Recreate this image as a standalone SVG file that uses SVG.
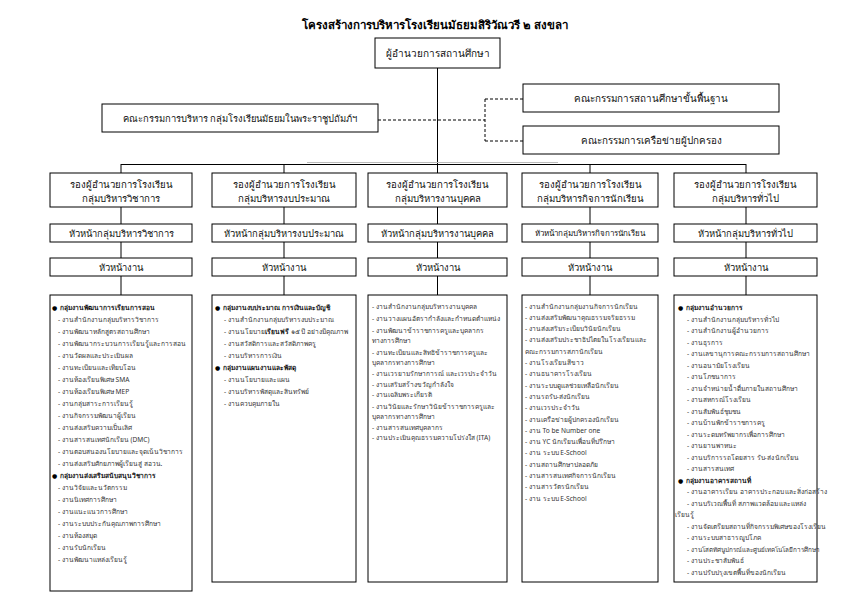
<svg xmlns="http://www.w3.org/2000/svg" width="842" height="596" viewBox="0 0 842 596">
<style>
.bg{fill:#fff}
.box{fill:#fff;stroke:#000;stroke-width:1}
.ln{stroke:#000;stroke-width:1;fill:none}
.dash{stroke:#000;stroke-width:1;fill:none;stroke-dasharray:3 2}
text{font-family:"Noto Sans","DejaVu Sans",sans-serif;fill:#000}
.title{font-size:11.5px;font-weight:bold;text-anchor:middle}
.m{font-size:9.6px;text-anchor:middle;fill:#111}
.s{font-size:9.4px;text-anchor:middle;fill:#111}
.c{font-size:9.8px;text-anchor:middle;fill:#111}
.l{font-size:6.6px;fill:#333}
.b{font-size:6.6px;font-weight:bold;fill:#111}
.dot{font-size:6px;fill:#000}
</style>
<rect class="bg" x="0" y="0" width="842" height="596"/>
<text class="title" x="435" y="29">โครงสร้างการบริหารโรงเรียนมัธยมสิริวัณวรี ๒ สงขลา</text>

<g id="connectors">
<path class="ln" d="M437.5,68 V164"/>
<path class="ln" d="M121,164.5 H746"/>
<path d="M307,162.5 H558" stroke="#bbb" stroke-width="1" fill="none"/>
<path class="ln" d="M121,164 V173 M284,164 V173 M437.5,164 V173 M590,164 V173 M746,164 V173"/>
<path class="ln" d="M121,207 V224 M284,207 V224 M437.5,207 V224 M590,207 V224 M746,207 V224"/>
<path class="ln" d="M121,242 V258 M284,242 V258 M437.5,242 V258 M590,242 V258 M746,242 V258"/>
<path class="ln" d="M121,276 V295 M284,276 V295 M437.5,276 V295 M590,276 V295 M746,276 V295"/>
<path class="dash" d="M378,120 H485 M485,99 V141 M485,99 H523 M485,141 H523"/>
</g>

<g id="director">
<rect class="box" x="375" y="38" width="125" height="30"/>
<text class="m" x="437.5" y="57" style="font-size:10px">ผู้อำนวยการสถานศึกษา</text>
</g>

<g id="committee-group">
<rect class="box" x="102" y="104" width="276" height="28"/>
<text class="s" x="240" y="122">คณะกรรมการบริหาร กลุ่มโรงเรียนมัธยมในพระราชูปถัมภ์ฯ</text>
</g>
<g id="committee-basic">
<rect class="box" x="523" y="84" width="256" height="28"/>
<text class="c" x="651" y="102">คณะกรรมการสถานศึกษาขั้นพื้นฐาน</text>
</g>
<g id="committee-parents">
<rect class="box" x="523" y="126" width="256" height="28"/>
<text class="c" x="651" y="144">คณะกรรมการเครือข่ายผู้ปกครอง</text>
</g>

<!-- Column 1 -->
<g id="deputy-academic">
<rect class="box" x="50" y="173" width="142" height="34"/>
<text class="m" x="121" y="188">รองผู้อำนวยการโรงเรียน</text>
<text class="m" x="121" y="202">กลุ่มบริหารวิชาการ</text>
</g>
<g id="head-academic">
<rect class="box" x="50" y="224" width="142" height="18"/>
<text class="s" x="121" y="236.5">หัวหน้ากลุ่มบริหารวิชาการ</text>
</g>
<g id="work-academic">
<rect class="box" x="50" y="258" width="142" height="18"/>
<text class="s" x="121" y="270.5">หัวหน้างาน</text>
</g>
<g id="list-academic">
<rect class="box" x="50" y="295" width="142" height="296"/>
<text class="dot" x="52" y="310">●</text><text class="b" x="60" y="310">กลุ่มงานพัฒนาการเรียนการสอน</text>
<text class="l" x="58" y="322">- งานสำนักงานกลุ่มบริหารวิชาการ</text>
<text class="l" x="58" y="334">- งานพัฒนาหลักสูตรสถานศึกษา</text>
<text class="l" x="58" y="346">- งานพัฒนากระบวนการเรียนรู้และการสอน</text>
<text class="l" x="58" y="358">- งานวัดผลและประเมินผล</text>
<text class="l" x="58" y="370">- งานทะเบียนและเทียบโอน</text>
<text class="l" x="58" y="382">- งานห้องเรียนพิเศษ SMA</text>
<text class="l" x="58" y="394">- งานห้องเรียนพิเศษ MEP</text>
<text class="l" x="58" y="406">- งานกลุ่มสาระการเรียนรู้</text>
<text class="l" x="58" y="418">- งานกิจกรรมพัฒนาผู้เรียน</text>
<text class="l" x="58" y="430">- งานส่งเสริมความเป็นเลิศ</text>
<text class="l" x="58" y="442">- งานสารสนเทศนักเรียน (DMC)</text>
<text class="l" x="58" y="454">- งานตอบสนองนโยบายและจุดเน้นวิชาการ</text>
<text class="l" x="58" y="466">- งานส่งเสริมศักยภาพผู้เรียนสู่ สอวน.</text>
<text class="dot" x="52" y="478">●</text><text class="b" x="60" y="478">กลุ่มงานส่งเสริมสนับสนุนวิชาการ</text>
<text class="l" x="58" y="490">- งานวิจัยและนวัตกรรม</text>
<text class="l" x="58" y="502">- งานนิเทศการศึกษา</text>
<text class="l" x="58" y="514">- งานแนะแนวการศึกษา</text>
<text class="l" x="58" y="526">- งานระบบประกันคุณภาพการศึกษา</text>
<text class="l" x="58" y="538">- งานห้องสมุด</text>
<text class="l" x="58" y="550">- งานรับนักเรียน</text>
<text class="l" x="58" y="562">- งานพัฒนาแหล่งเรียนรู้</text>
</g>

<!-- Column 2 -->
<g id="deputy-budget">
<rect class="box" x="212" y="173" width="144" height="34"/>
<text class="m" x="284" y="188">รองผู้อำนวยการโรงเรียน</text>
<text class="m" x="284" y="202">กลุ่มบริหารงบประมาณ</text>
</g>
<g id="head-budget">
<rect class="box" x="212" y="224" width="144" height="18"/>
<text class="s" x="284" y="236.5">หัวหน้ากลุ่มบริหารงบประมาณ</text>
</g>
<g id="work-budget">
<rect class="box" x="212" y="258" width="144" height="18"/>
<text class="s" x="284" y="270.5">หัวหน้างาน</text>
</g>
<g id="list-budget">
<rect class="box" x="212" y="295" width="144" height="287"/>
<text class="dot" x="215" y="310">●</text><text class="b" x="223" y="310">กลุ่มงานงบประมาณ การเงินและบัญชี</text>
<text class="l" x="224" y="322">- งานสำนักงานกลุ่มบริหารงบประมาณ</text>
<text class="l" x="224" y="334">- งานนโยบาย<tspan font-weight="bold" fill="#111">เรียนฟรี</tspan> ๑๕ ปี อย่างมีคุณภาพ</text>
<text class="l" x="224" y="346">- งานสวัสดิการและสวัสดิภาพครู</text>
<text class="l" x="224" y="358">- งานบริหารการเงิน</text>
<text class="dot" x="215" y="370">●</text><text class="b" x="223" y="370">กลุ่มงานแผนงานและพัสดุ</text>
<text class="l" x="224" y="382">- งานนโยบายและแผน</text>
<text class="l" x="224" y="394">- งานบริหารพัสดุและสินทรัพย์</text>
<text class="l" x="224" y="406">- งานควบคุมภายใน</text>
</g>

<!-- Column 3 -->
<g id="deputy-personnel">
<rect class="box" x="368" y="173" width="139" height="34"/>
<text class="m" x="437.5" y="188">รองผู้อำนวยการโรงเรียน</text>
<text class="m" x="437.5" y="202">กลุ่มบริหารงานบุคคล</text>
</g>
<g id="head-personnel">
<rect class="box" x="368" y="224" width="139" height="18"/>
<text class="s" x="437.5" y="236.5">หัวหน้ากลุ่มบริหารงานบุคคล</text>
</g>
<g id="work-personnel">
<rect class="box" x="368" y="258" width="139" height="18"/>
<text class="s" x="437.5" y="270.5">หัวหน้างาน</text>
</g>
<g id="list-personnel">
<rect class="box" x="368" y="295" width="139" height="287"/>
<text class="l" x="372" y="308.5">- งานสำนักงานกลุ่มบริหารงานบุคคล</text>
<text class="l" x="372" y="320.5">- งานวางแผนอัตรากำลังและกำหนดตำแหน่ง</text>
<text class="l" x="372" y="332.5">- งานพัฒนาข้าราชการครูและบุคลากร</text>
<text class="l" x="372" y="342.5">ทางการศึกษา</text>
<text class="l" x="372" y="354.5">- งานทะเบียนและสิทธิข้าราชการครูและ</text>
<text class="l" x="372" y="364.5">บุคลากรทางการศึกษา</text>
<text class="l" x="372" y="376">- งานเวรยามรักษาการณ์ และเวรประจำวัน</text>
<text class="l" x="372" y="386.5">- งานเสริมสร้างขวัญกำลังใจ</text>
<text class="l" x="372" y="397">- งานเฉลิมพระเกียรติ</text>
<text class="l" x="372" y="408.5">- งานวินัยและรักษาวินัยข้าราชการครูและ</text>
<text class="l" x="372" y="418.5">บุคลากรทางการศึกษา</text>
<text class="l" x="372" y="429.5">- งานสารสนเทศบุคลากร</text>
<text class="l" x="372" y="440">- งานประเมินคุณธรรมความโปร่งใส (ITA)</text>
</g>

<!-- Column 4 -->
<g id="deputy-student">
<rect class="box" x="522" y="173" width="136" height="34"/>
<text class="m" x="590" y="188">รองผู้อำนวยการโรงเรียน</text>
<text class="m" x="590" y="202">กลุ่มบริหารกิจการนักเรียน</text>
</g>
<g id="head-student">
<rect class="box" x="522" y="224" width="136" height="18"/>
<text class="s" x="590" y="236" style="font-size:8px">หัวหน้ากลุ่มบริหารกิจการนักเรียน</text>
</g>
<g id="work-student">
<rect class="box" x="522" y="258" width="136" height="18"/>
<text class="s" x="590" y="270.5">หัวหน้างาน</text>
</g>
<g id="list-student">
<rect class="box" x="522" y="295" width="136" height="287"/>
<text class="l" x="525" y="308.5">- งานสำนักงานกลุ่มงานกิจการนักเรียน</text>
<text class="l" x="525" y="319.8">- งานส่งเสริมพัฒนาคุณธรรมจริยธรรม</text>
<text class="l" x="525" y="331.1">- งานส่งเสริมระเบียบวินัยนักเรียน</text>
<text class="l" x="525" y="342.4">- งานส่งเสริมประชาธิปไตยในโรงเรียนและ</text>
<text class="l" x="525" y="353.7">คณะกรรมการสภานักเรียน</text>
<text class="l" x="525" y="365">- งานโรงเรียนสีขาว</text>
<text class="l" x="525" y="376.3">- งานธนาคารโรงเรียน</text>
<text class="l" x="525" y="387.6">- งานระบบดูแลช่วยเหลือนักเรียน</text>
<text class="l" x="525" y="398.9">- งานรถรับ-ส่งนักเรียน</text>
<text class="l" x="525" y="410.2">- งานเวรประจำวัน</text>
<text class="l" x="525" y="421.5">- งานเครือข่ายผู้ปกครองนักเรียน</text>
<text class="l" x="525" y="432.8">- งาน To be Number one</text>
<text class="l" x="525" y="444.1">- งาน YC นักเรียนเพื่อนที่ปรึกษา</text>
<text class="l" x="525" y="455.4">- งาน ระบบ E-School</text>
<text class="l" x="525" y="466.7">- งานสถานศึกษาปลอดภัย</text>
<text class="l" x="525" y="478">- งานสารสนเทศกิจการนักเรียน</text>
<text class="l" x="525" y="489.3">- งานสารวัตรนักเรียน</text>
<text class="l" x="525" y="500.6">- งาน ระบบ E-School</text>
</g>

<!-- Column 5 -->
<g id="deputy-general">
<rect class="box" x="674" y="173" width="143" height="34"/>
<text class="m" x="745.5" y="188">รองผู้อำนวยการโรงเรียน</text>
<text class="m" x="745.5" y="202">กลุ่มบริหารทั่วไป</text>
</g>
<g id="head-general">
<rect class="box" x="674" y="224" width="143" height="18"/>
<text class="s" x="745.5" y="236.5">หัวหน้ากลุ่มบริหารทั่วไป</text>
</g>
<g id="work-general">
<rect class="box" x="674" y="258" width="143" height="18"/>
<text class="s" x="745.5" y="270.5">หัวหน้างาน</text>
</g>
<g id="list-general">
<rect class="box" x="674" y="295" width="143" height="287"/>
<text class="dot" x="678" y="310">●</text><text class="b" x="686" y="310">กลุ่มงานอำนวยการ</text>
<text class="l" x="687" y="321.5">- งานสำนักงานกลุ่มบริหารทั่วไป</text>
<text class="l" x="687" y="333">- งานสำนักงานผู้อำนวยการ</text>
<text class="l" x="687" y="344.5">- งานธุรการ</text>
<text class="l" x="687" y="356">- งานเลขานุการคณะกรรมการสถานศึกษา</text>
<text class="l" x="687" y="367.5">- งานอนามัยโรงเรียน</text>
<text class="l" x="687" y="379">- งานโภชนาการ</text>
<text class="l" x="687" y="390.5">- งานจำหน่ายน้ำดื่มภายในสถานศึกษา</text>
<text class="l" x="687" y="402">- งานสหกรณ์โรงเรียน</text>
<text class="l" x="687" y="413.5">- งานสัมพันธ์ชุมชน</text>
<text class="l" x="687" y="425">- งานบ้านพักข้าราชการครู</text>
<text class="l" x="687" y="436.5">- งานระดมทรัพยากรเพื่อการศึกษา</text>
<text class="l" x="687" y="448">- งานยานพาหนะ</text>
<text class="l" x="687" y="459.5">- งานบริการรถโดยสาร รับ-ส่ง นักเรียน</text>
<text class="l" x="687" y="471">- งานสารสนเทศ</text>
<text class="dot" x="678" y="482.5">●</text><text class="b" x="686" y="482.5">กลุ่มงานอาคารสถานที่</text>
<text class="l" x="687" y="494">- งานอาคารเรียน อาคารประกอบ และสิ่งก่อสร้าง</text>
<text class="l" x="687" y="505.5">- งานบริเวณพื้นที่ สภาพแวดล้อม และแหล่ง</text>
<text class="l" x="675" y="517">เรียนรู้</text>
<text class="l" x="687" y="528.5">- งานจัดเตรียมสถานที่กิจกรรมพิเศษของโรงเรียน</text>
<text class="l" x="687" y="540">- งานระบบสาธารณูปโภค</text>
<text class="l" x="687" y="551.5" style="font-size:6.3px">- งานโสตทัศนูปกรณ์และศูนย์เทคโนโลยีการศึกษา</text>
<text class="l" x="687" y="563">- งานประชาสัมพันธ์</text>
<text class="l" x="687" y="574.5">- งานปรับปรุงเขตพื้นที่ของนักเรียน</text>
</g>
</svg>
